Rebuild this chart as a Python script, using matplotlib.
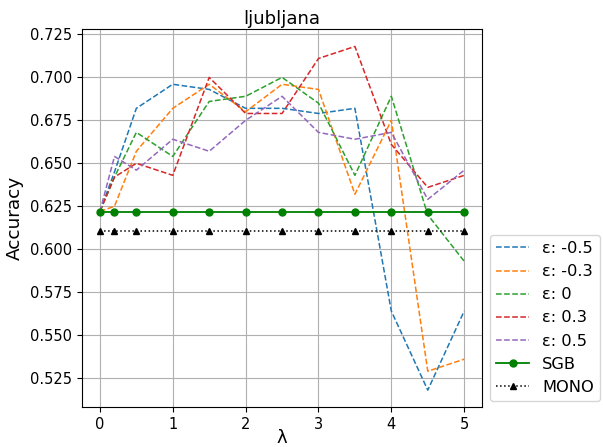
import matplotlib
matplotlib.use("Agg")
import matplotlib.pyplot as plt

lam = [0, 0.2, 0.5, 1, 1.5, 2, 2.5, 3, 3.5, 4, 4.5, 5]
eps_labels = ["ε: -0.5", "ε: -0.3", "ε: 0", "ε: 0.3", "ε: 0.5"]
eps_m05 = [0.622, 0.645, 0.682, 0.696, 0.693, 0.682, 0.682, 0.679, 0.682, 0.564, 0.518, 0.564]
eps_m03 = [0.622, 0.625, 0.657, 0.682, 0.696, 0.680, 0.696, 0.693, 0.632, 0.675, 0.529, 0.536]
eps_0 = [0.622, 0.642, 0.668, 0.654, 0.686, 0.689, 0.700, 0.685, 0.643, 0.689, 0.620, 0.593]
eps_03 = [0.622, 0.642, 0.650, 0.643, 0.700, 0.679, 0.679, 0.711, 0.718, 0.661, 0.636, 0.643]
eps_05 = [0.622, 0.654, 0.646, 0.664, 0.657, 0.675, 0.689, 0.668, 0.664, 0.668, 0.629, 0.646]
sgb = [0.6215] * len(lam)
mono = [0.6105] * len(lam)

series = [eps_m05, eps_m03, eps_0, eps_03, eps_05]
colors = ["#1f77b4", "#ff7f0e", "#2ca02c", "#d62728", "#9467bd"]

fig = plt.figure(figsize=(6.03, 4.47), dpi=100)
ax = fig.add_axes([0.1355, 0.0888, 0.6645, 0.8457])

handles = []
for vals, lab, c in zip(series, eps_labels, colors):
    h, = ax.plot(lam, vals, linestyle="--", color=c, linewidth=1.1, label=lab)
    handles.append(h)
h, = ax.plot(lam, sgb, color="green", linestyle="-", linewidth=1.3, marker="o",
             markersize=5, label="SGB")
handles.append(h)
h, = ax.plot(lam, mono, color="black", linestyle=":", linewidth=1.1, marker="^",
             markersize=4.5, label="MONO")
handles.append(h)

ax.grid(True, color="#b0b0b0", linewidth=0.8)
ax.set_axisbelow(True)
ax.set_title("ljubljana", fontsize=13, pad=4)
ax.set_xlabel("λ", fontsize=13, labelpad=-2)
ax.set_ylabel("Accuracy", fontsize=13.3)
ax.tick_params(labelsize=10.5)
ax.set_yticks([0.525, 0.55, 0.575, 0.6, 0.625, 0.65, 0.675, 0.7, 0.725])
ax.set_yticklabels(["0.525", "0.550", "0.575", "0.600", "0.625", "0.650", "0.675", "0.700", "0.725"])
ax.set_xticks([0, 1, 2, 3, 4, 5])

fig.legend(handles=handles, loc="center left", bbox_to_anchor=(0.8126, 0.2886),
           bbox_transform=fig.transFigure, borderaxespad=0, fontsize=11.7)

fig.savefig("out.png", dpi=100)
